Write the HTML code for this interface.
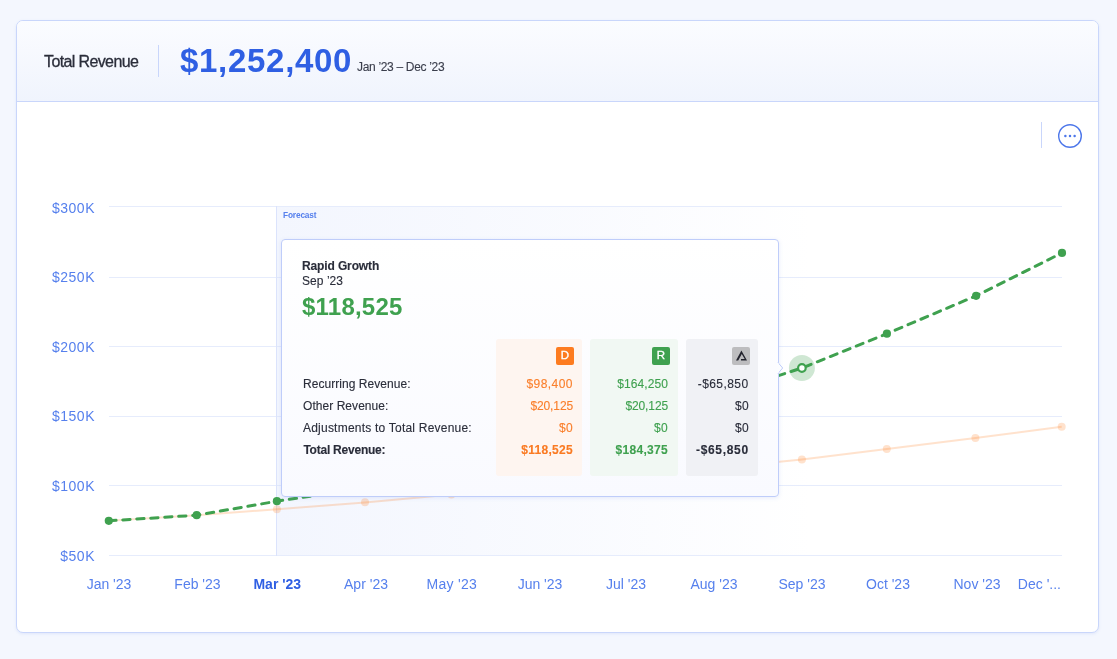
<!DOCTYPE html>
<html><head><meta charset="utf-8">
<style>
*{box-sizing:border-box;margin:0;padding:0}
html,body{width:1117px;height:659px;overflow:hidden;background:#f4f7fe;font-family:"Liberation Sans",sans-serif;}
.abs{position:absolute;white-space:nowrap;line-height:1}
#card{position:absolute;left:16px;top:20px;width:1083px;height:613px;border:1px solid #c9d6fb;border-radius:7px;background:#fff;box-shadow:0 1px 3px rgba(120,150,230,.16);overflow:hidden}
#hdr{position:absolute;left:0;top:0;width:100%;height:81px;background:linear-gradient(#fbfcff,#f0f4fd);border-bottom:1px solid #c9d6fb}
.yl{color:#5680ed;font-size:14px;text-align:right;width:61px;letter-spacing:.5px}
.xl{color:#5680ed;font-size:14px;text-align:center;width:80px}
.tl{color:#2a2d3a;font-size:12px;letter-spacing:.35px;-webkit-text-stroke:.12px currentColor}
.tv{font-size:12px;text-align:right;width:80px;letter-spacing:.3px;-webkit-text-stroke:.12px currentColor}
.b{font-weight:bold}
#wrap{position:absolute;left:0;top:0;width:1117px;height:659px;will-change:transform}
</style></head><body><div id="wrap">
<div id="card"><div id="hdr"></div></div>

<!-- header -->
<div class="abs" id="t1" style="left:44px;top:54px;font-size:16px;color:#2a2d3a;letter-spacing:-.62px;-webkit-text-stroke:.3px #2a2d3a">Total Revenue</div>
<div class="abs" style="left:158px;top:45px;width:1px;height:32px;background:#c9d6fb"></div>
<div class="abs b" id="t2" style="left:180px;top:44px;font-size:33px;color:#2f5fe3;letter-spacing:.7px">$1,252,400</div>
<div class="abs" id="t3" style="left:357px;top:61px;font-size:12px;color:#3a3e4c;letter-spacing:-.32px;-webkit-text-stroke:.12px #3a3e4c">Jan ’23 – Dec ’23</div>

<!-- more button -->
<div class="abs" style="left:1041px;top:122px;width:1px;height:26px;background:#c9d6fb"></div>
<svg class="abs" style="left:1056px;top:122px" width="28" height="28" viewBox="0 0 28 28">
<circle cx="14" cy="14" r="11.3" fill="#fff" stroke="#4d77ea" stroke-width="1.4"/>
<circle cx="9.4" cy="14" r="1.25" fill="#4d77ea"/><circle cx="14" cy="14" r="1.25" fill="#4d77ea"/><circle cx="18.6" cy="14" r="1.25" fill="#4d77ea"/>
</svg>

<!-- chart -->
<svg class="abs" style="left:0;top:0" width="1117" height="659" viewBox="0 0 1117 659">
<defs>
<linearGradient id="fg" x1="0" x2="1" y1="0" y2="0"><stop offset="0" stop-color="#d7e1fc" stop-opacity=".3"/><stop offset=".4" stop-color="#d7e1fc" stop-opacity=".14"/><stop offset=".68" stop-color="#d7e1fc" stop-opacity="0"/></linearGradient>
</defs>
<g fill="#e6ecfc" shape-rendering="crispEdges">
<rect x="109" y="206" width="953" height="1"/>
<rect x="109" y="277" width="953" height="1"/>
<rect x="109" y="346" width="953" height="1"/>
<rect x="109" y="416" width="953" height="1"/>
<rect x="109" y="485" width="953" height="1"/>
<rect x="109" y="555" width="953" height="1"/>
</g>
<rect x="277" y="207" width="785" height="348" fill="url(#fg)"/>
<rect x="276" y="206" width="1" height="350" fill="#dbe3fc" shape-rendering="crispEdges"/>
<!-- orange -->
<polyline fill="none" stroke="#ff7a1a" stroke-opacity=".22" stroke-width="2" points="108.8,520.8 196.7,515.2 276.9,509.2 365,502.6 451.4,494.4 539.8,485.6 625.4,477 713.9,468.3 801.9,459.4 886.8,449.1 975.4,438 1061.7,426.7"/>
<g fill="#ff7a1a" fill-opacity=".22">
<circle cx="276.9" cy="509.2" r="4"/><circle cx="365" cy="502.2" r="4"/><circle cx="451.4" cy="494.4" r="4"/><circle cx="539.8" cy="485.6" r="4"/><circle cx="625.4" cy="477" r="4"/><circle cx="713.9" cy="468.3" r="4"/><circle cx="801.9" cy="459.4" r="4"/><circle cx="886.8" cy="449.1" r="4"/><circle cx="975.4" cy="438" r="4"/><circle cx="1061.7" cy="426.7" r="4"/>
</g>
<!-- green -->
<circle cx="801.9" cy="368" r="13" fill="#3fa14f" fill-opacity=".25"/>
<g fill="none" stroke="#3fa14f" stroke-width="3" stroke-linecap="round" stroke-dasharray="7.3 6.7">
<polyline points="108.8,520.8 196.7,515.2 276.9,501.2 365,488 451.4,466"/>
<polyline stroke-dashoffset="2.8" points="713.9,396.8 801.9,368 886.9,333.7 976.1,295.8 1062,252.9"/>
</g>
<g fill="#3fa14f">
<circle cx="108.8" cy="520.8" r="4.1"/><circle cx="196.7" cy="515.2" r="4.1"/><circle cx="276.9" cy="501.2" r="4.1"/><circle cx="886.9" cy="333.7" r="4.1"/><circle cx="976.1" cy="295.8" r="4.1"/><circle cx="1062" cy="252.9" r="4.1"/>
</g>
<circle cx="801.9" cy="368" r="3.8" fill="#fff" stroke="#3fa14f" stroke-width="2.2"/>
</svg>

<!-- y labels -->
<div class="abs yl" style="left:34px;top:201px">$300K</div>
<div class="abs yl" style="left:34px;top:270px">$250K</div>
<div class="abs yl" style="left:34px;top:340px">$200K</div>
<div class="abs yl" style="left:34px;top:409px">$150K</div>
<div class="abs yl" style="left:34px;top:479px">$100K</div>
<div class="abs yl" style="left:34px;top:549px">$50K</div>
<!-- x labels -->
<div class="abs xl" style="left:69px;top:577px">Jan '23</div>
<div class="abs xl" style="left:157.5px;top:577px">Feb '23</div>
<div class="abs xl b" style="left:237.3px;top:577px;color:#2f5fe3">Mar '23</div>
<div class="abs xl" style="left:326px;top:577px">Apr '23</div>
<div class="abs xl" style="left:411.8px;top:577px;letter-spacing:.3px">May '23</div>
<div class="abs xl" style="left:500px;top:577px">Jun '23</div>
<div class="abs xl" style="left:586px;top:577px">Jul '23</div>
<div class="abs xl" style="left:674px;top:577px">Aug '23</div>
<div class="abs xl" style="left:762px;top:577px">Sep '23</div>
<div class="abs xl" style="left:848px;top:577px">Oct '23</div>
<div class="abs xl" style="left:937px;top:577px">Nov '23</div>
<div class="abs xl" style="left:1001px;top:577px;text-align:right;width:60px">Dec '...</div>

<div class="abs b" style="left:283px;top:211.3px;font-size:8.3px;color:#5680ed;letter-spacing:-.15px">Forecast</div>

<!-- tooltip -->
<div class="abs" id="tip" style="left:281px;top:239px;width:498px;height:258px;border:1px solid #bfcdfa;border-radius:4px;background:linear-gradient(#ffffff,#f9faff);box-shadow:0 1px 4px rgba(100,130,220,.15)"></div>
<svg class="abs" style="left:777px;top:360px" width="8" height="16" viewBox="0 0 8 16"><path d="M1,2.6 L5.7,8 L1,13.4" fill="#fcfdff" stroke="#bfcdfa" stroke-width="1"/><rect x="0" y="3" width="1.6" height="10" fill="#fcfdff"/></svg>

<div class="abs tl b" style="left:302px;top:260px;letter-spacing:-.13px">Rapid Growth</div>
<div class="abs tl" style="left:302px;top:275px;letter-spacing:.05px">Sep ’23</div>
<div class="abs b" style="left:302px;top:294.5px;font-size:24px;color:#3fa14f;letter-spacing:.22px">$118,525</div>

<div class="abs" style="left:496px;top:339px;width:86px;height:137px;border-radius:3px;background:#fef5f0"></div>
<div class="abs" style="left:590px;top:339px;width:88px;height:137px;border-radius:3px;background:#f1f8f3"></div>
<div class="abs" style="left:686px;top:339px;width:72px;height:137px;border-radius:3px;background:#f0f1f5"></div>

<div class="abs" style="-webkit-text-stroke:.35px #fff;left:556px;top:347px;width:18px;height:18px;border-radius:2px;background:#fd7b1f;color:#fff;font-size:11.5px;text-align:center;line-height:17.6px">D</div>
<div class="abs" style="-webkit-text-stroke:.35px #fff;left:652px;top:347px;width:18px;height:18px;border-radius:2px;background:#3fa14f;color:#fff;font-size:11.5px;text-align:center;line-height:17.6px">R</div>
<div class="abs" style="left:732px;top:347px;width:18px;height:18px;border-radius:2px;background:#bdbdbf"></div>
<svg class="abs" style="left:732px;top:347px" width="18" height="18" viewBox="0 0 18 18"><path d="M4.0,13.6 L9.4,3.5 L15.0,13.6 L9.0,13.6 L9.0,12.1 L12.67,12.1 L9.78,6.9 L6.2,13.6 Z" fill="#23242e"/></svg>

<div class="abs tl" style="left:303px;top:378px;letter-spacing:.05px">Recurring Revenue:</div>
<div class="abs tl" style="left:303px;top:400px;letter-spacing:.05px">Other Revenue:</div>
<div class="abs tl" style="left:303px;top:422px;letter-spacing:.22px">Adjustments to Total Revenue:</div>
<div class="abs tl b" style="left:303.4px;top:444px;letter-spacing:-.23px">Total Revenue:</div>

<div class="abs tv" style="left:493px;top:378px;color:#fa7f2b;letter-spacing:.45px">$98,400</div>
<div class="abs tv" style="left:493px;top:400px;color:#fa7f2b;letter-spacing:-.12px">$20,125</div>
<div class="abs tv" style="left:493px;top:422px;color:#fa7f2b">$0</div>
<div class="abs tv b" style="left:493px;top:444px;color:#fa7a22">$118,525</div>

<div class="abs tv" style="left:588px;top:378px;color:#3fa14f;letter-spacing:.1px">$164,250</div>
<div class="abs tv" style="left:588px;top:400px;color:#3fa14f;letter-spacing:-.12px">$20,125</div>
<div class="abs tv" style="left:588px;top:422px;color:#3fa14f">$0</div>
<div class="abs tv b" style="left:588px;top:444px;color:#3fa14f">$184,375</div>

<div class="abs tv" style="left:668.5px;top:378px;color:#2a2d3a;letter-spacing:.42px">-$65,850</div>
<div class="abs tv" style="left:669px;top:400px;color:#2a2d3a">$0</div>
<div class="abs tv" style="left:669px;top:422px;color:#2a2d3a">$0</div>
<div class="abs tv b" style="left:668.8px;top:444px;color:#2a2d3a;letter-spacing:.68px">-$65,850</div>
</div></body></html>
